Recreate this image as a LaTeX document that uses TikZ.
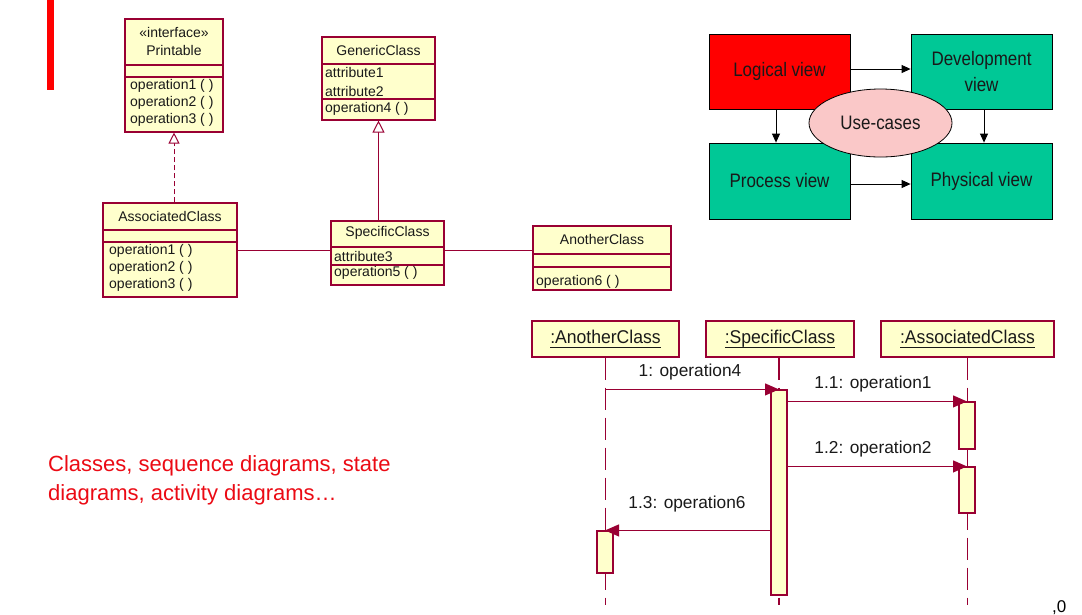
\documentclass[tikz,border=0pt]{standalone}
\usepackage{fontspec}
\setmainfont{Liberation Sans}
\newfontfamily\viewfont[FakeStretch=0.87]{Liberation Sans}
\newfontfamily\objfont[FakeStretch=0.95]{Liberation Sans}
\usetikzlibrary{arrows.meta,shapes.geometric}
\definecolor{umlborder}{RGB}{153,0,51}
\definecolor{umlfill}{RGB}{255,255,204}
\definecolor{umltext}{RGB}{25,25,25}
\definecolor{viewred}{RGB}{255,0,0}
\definecolor{viewteal}{RGB}{0,200,150}
\definecolor{usecasepink}{RGB}{250,200,200}
\definecolor{slidered}{RGB}{235,10,20}
% object name underlined a little below the baseline
\newcommand\objname[1]{\setbox0\hbox{#1}\rlap{\copy0}\rule[-5pt]{\wd0}{0.9pt}}

\begin{document}
\begin{tikzpicture}[x=1pt,y=-1pt,
  classbox/.style={draw=umlborder, fill=umlfill, line width=1.1pt, inner sep=0, rectangle},
  sep/.style={draw=umlborder, line width=1.1pt},
  cls/.style={font=\fontsize{14}{16}\selectfont, text=umltext, inner sep=0},
  clsleft/.style={cls, anchor=west},
  realize/.style={draw=umlborder, line width=1pt, dash pattern=on 5pt off 3pt,
    -{Triangle[open, length=11pt, width=11pt, fill=white]}},
  inherit/.style={draw=umlborder, line width=1pt,
    -{Triangle[open, length=12pt, width=12pt, fill=white]}},
  assoc/.style={draw=umlborder, line width=1pt},
  view/.style={draw=black, line width=0.8pt, rectangle, minimum width=141pt,
    minimum height=75pt, inner sep=0, align=center, text=black!90,
    font=\viewfont\fontsize{19.5}{26}\selectfont},
  varrow/.style={draw=black, line width=0.9pt, -{Triangle[length=9pt, width=8pt]}},
  objbox/.style={classbox, minimum height=36pt, text=umltext,
    font=\objfont\fontsize{18.5}{20}\selectfont},
  lifeline/.style={draw=umlborder, line width=1.1pt, dash pattern=on 22pt off 8pt},
  activation/.style={classbox, minimum width=16pt},
  msg/.style={draw=umlborder, line width=1.1pt, -{Triangle[length=14pt, width=12pt]}},
  msglabel/.style={font=\fontsize{17.3}{20}\selectfont, text=umltext, inner sep=0}
]
\useasboundingbox (0,0) rectangle (1082,614);

% slide accent bar
\fill[viewred] (47,0) rectangle (54,90);

% ---------------- class diagram ----------------
\node[classbox, minimum width=98pt, minimum height=113pt] (printable) at (174,75.5) {};
\draw[sep] (printable.west |- 0,65) -- (printable.east |- 0,65);
\draw[sep] (printable.west |- 0,77) -- (printable.east |- 0,77);
\node[cls] (printable-st) at (174,32) {«interface»};
\node[cls] (printable-nm) at (174,50) {Printable};
\node[clsleft] (printable-o1) at (130,86) {operation1 ( )};
\node[clsleft] (printable-o2) at (130,103) {operation2 ( )};
\node[clsleft] (printable-o3) at (130,120) {operation3 ( )};

\node[classbox, minimum width=113pt, minimum height=83pt] (generic) at (378.5,78.5) {};
\draw[sep] (generic.west |- 0,64) -- (generic.east |- 0,64);
\draw[sep] (generic.west |- 0,99) -- (generic.east |- 0,99);
\node[cls] (generic-nm) at (378.5,50) {GenericClass};
\node[clsleft] (generic-a1) at (325,72) {attribute1};
\node[clsleft] (generic-a2) at (325,91) {attribute2};
\node[clsleft] (generic-o4) at (325,109) {operation4 ( )};

\node[classbox, minimum width=134pt, minimum height=94pt] (associated) at (170,250) {};
\draw[sep] (associated.west |- 0,230) -- (associated.east |- 0,230);
\draw[sep] (associated.west |- 0,242) -- (associated.east |- 0,242);
\node[cls] (associated-nm) at (170,216) {AssociatedClass};
\node[clsleft] (associated-o1) at (109,251) {operation1 ( )};
\node[clsleft] (associated-o2) at (109,268) {operation2 ( )};
\node[clsleft] (associated-o3) at (109,285) {operation3 ( )};

\node[classbox, minimum width=113pt, minimum height=64pt] (specific) at (387.5,253) {};
\draw[sep] (specific.west |- 0,247) -- (specific.east |- 0,247);
\draw[sep] (specific.west |- 0,265) -- (specific.east |- 0,265);
\node[cls] (specific-nm) at (387.5,233) {SpecificClass};
\node[clsleft] (specific-a3) at (334,256) {attribute3};
\node[clsleft] (specific-o5) at (334,273) {operation5 ( )};

\node[classbox, minimum width=138pt, minimum height=64pt] (another) at (602,258) {};
\draw[sep] (another.west |- 0,254) -- (another.east |- 0,254);
\draw[sep] (another.west |- 0,267) -- (another.east |- 0,267);
\node[cls] (another-nm) at (602,239) {AnotherClass};
\node[clsleft] (another-o6) at (536,282) {operation6 ( )};

% relations
\draw[realize] (printable.south |- associated.north) -- (printable.south);
\draw[inherit] (generic.south |- specific.north) -- (generic.south);
\draw[assoc] (associated.east) -- (associated.east -| specific.west);
\draw[assoc] (associated.east -| specific.east) -- (associated.east -| another.west);

% ---------------- 4+1 views ----------------
\node[view, fill=viewred] (logical) at (779.5,71.5) {Logical view};
\node[view, fill=viewteal] (development) at (981.5,71.5) {Development\\view};
\node[view, fill=viewteal, minimum height=76pt] (process) at (779.5,181) {Process view};
\node[view, fill=viewteal, minimum height=76pt] (physical) at (981.5,181) {Physical view};
\draw[varrow] ([yshift=2.5pt]logical.east) -- ([yshift=2.5pt]development.west);
\draw[varrow] ([yshift=-3pt]process.east) -- ([yshift=-3pt]physical.west);
\draw[varrow] ([xshift=-3.5pt]logical.south) -- ([xshift=-3.5pt]process.north);
\draw[varrow] ([xshift=2.5pt]development.south) -- ([xshift=2.5pt]physical.north);
\node[ellipse, draw=black, line width=0.8pt, fill=usecasepink, minimum width=143pt,
  minimum height=68pt, inner sep=0, text=black!90, font=\viewfont\fontsize{19.5}{22}\selectfont]
  (usecases) at (880.5,123) {Use-cases};

% ---------------- sequence diagram ----------------
\node[objbox, minimum width=147pt] (objanother) at (605.5,339) {\objname{:AnotherClass}};
\node[objbox, minimum width=148pt] (objspecific) at (780,339) {\objname{:SpecificClass}};
\node[objbox, minimum width=173pt] (objassociated) at (967.5,339) {\objname{:AssociatedClass}};

\coordinate (endanother) at (605.5,605);
\coordinate (endspecific) at (779,605);
\coordinate (endassociated) at (967.5,605);

\draw[lifeline] (objanother.south) -- (endanother);
\draw[lifeline] (objassociated.south) -- (endassociated);
\draw[lifeline] (objspecific.south -| endspecific) -- (endspecific);

\node[activation, minimum height=205pt] (actspecific) at (779,492.5) {};
\node[activation, minimum height=47pt] (actassoc1) at (967,425.5) {};
\node[activation, minimum height=46pt] (actassoc2) at (967,490) {};
\node[activation, minimum height=42pt] (actanother) at (605,552) {};

\draw[msg] (objanother.south |- actspecific.north) -- (actspecific.north);
\draw[msg] (actspecific.east |- actassoc1.north) -- (actassoc1.north);
\draw[msg] (actspecific.east |- actassoc2.north) -- (actassoc2.north);
\draw[msg] (actspecific.west |- actanother.north) -- (actanother.north);

\node[msglabel] (lbl1) at (690,372) {1: operation4};
\node[msglabel] (lbl11) at (873,384) {1.1: operation1};
\node[msglabel] (lbl12) at (873,449) {1.2: operation2};
\node[msglabel] (lbl13) at (687,504) {1.3: operation6};

% ---------------- caption and page number ----------------
\node[anchor=base west, inner sep=0, align=left, text=slidered,
  font=\fontsize{22}{29}\selectfont] (caption) at (48,500)
  {Classes, sequence diagrams, state\\diagrams, activity diagrams…};
\node[anchor=base west, inner sep=0, font=\fontsize{17}{20}\selectfont] (pagenum) at (1052,612) {,0};
\end{tikzpicture}
\end{document}
